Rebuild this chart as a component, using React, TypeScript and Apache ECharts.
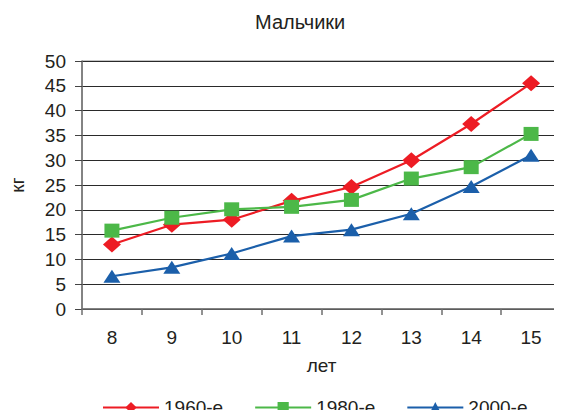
import React, { useEffect, useRef } from "react";
import * as echarts from "echarts";

const categories = ["8", "9", "10", "11", "12", "13", "14", "15"];
const s1960 = [13, 17, 18, 21.8, 24.6, 30, 37.3, 45.5];
const s1980 = [15.8, 18.4, 20.1, 20.6, 22, 26.3, 28.6, 35.3];
const s2000 = [6.6, 8.4, 11.2, 14.7, 16, 19.2, 24.7, 31];
const seriesNames = ["1960-е", "1980-е", "2000-е"];
const titleText = "Мальчики";
const xName = "лет";
const yName = "кг";

const FONT = "Liberation Sans, Arial, sans-serif";
const TXT = "#231f20";

export default function App() {
  const ref = useRef<HTMLDivElement>(null);
  useEffect(() => {
    if (!ref.current) return;
    const chart = echarts.init(ref.current, null, { renderer: "svg" });
    chart.setOption({
      animation: false,
      backgroundColor: "#fff",
      textStyle: { fontFamily: FONT },
      title: {
        text: titleText,
        left: 255,
        top: 12,
        padding: 0,
        textStyle: { fontFamily: FONT, fontSize: 20, fontWeight: "normal", color: TXT },
      },
      grid: {
        left: 80,
        right: 1,
        top: 61,
        bottom: 109,
        show: true,
        borderColor: "#8a8a8a",
        borderWidth: 1,
      },
      legend: {
        left: 102,
        top: 398,
        padding: 0,
        itemWidth: 56,
        itemHeight: 14,
        itemGap: 31,
        textStyle: { fontFamily: FONT, fontSize: 19, color: TXT, lineHeight: 19 },
        data: seriesNames,
      },
      xAxis: {
        type: "category",
        data: categories,
        boundaryGap: true,
        name: xName,
        nameLocation: "middle",
        nameGap: 47,
        nameTextStyle: { fontFamily: FONT, fontSize: 19, color: TXT },
        axisLine: { lineStyle: { color: "#6e6e6e", width: 1.5 } },
        axisTick: { show: true, length: 6, alignWithLabel: false, lineStyle: { color: "#6e6e6e", width: 1.5 } },
        axisLabel: { fontFamily: FONT, fontSize: 19, color: TXT, margin: 19 },
        splitLine: { show: false },
      },
      yAxis: {
        type: "value",
        min: 0,
        max: 50,
        interval: 5,
        name: yName,
        nameLocation: "middle",
        nameRotate: 90,
        nameGap: 55,
        nameTextStyle: { fontFamily: FONT, fontSize: 19, color: TXT },
        axisLine: { show: true, lineStyle: { color: "#6e6e6e", width: 1.5 } },
        axisTick: { show: true, length: 7, lineStyle: { color: "#444", width: 1 } },
        axisLabel: { fontFamily: FONT, fontSize: 19, color: TXT, margin: 16 },
        splitLine: { show: true, lineStyle: { color: "#2a2a2a", width: 1 } },
      },
      series: [
        {
          name: seriesNames[0],
          type: "line",
          data: s1960,
          symbol: "diamond",
          symbolSize: [18, 16],
          itemStyle: { color: "#ed1c24" },
          lineStyle: { color: "#ed1c24", width: 2.2 },
        },
        {
          name: seriesNames[1],
          type: "line",
          data: s1980,
          symbol: "rect",
          symbolSize: [15, 14],
          itemStyle: { color: "#4cb848" },
          lineStyle: { color: "#4cb848", width: 2.2 },
        },
        {
          name: seriesNames[2],
          type: "line",
          data: s2000,
          symbol: "triangle",
          symbolSize: [17, 13],
          itemStyle: { color: "#1b5faa" },
          lineStyle: { color: "#1b5faa", width: 2.2 },
        },
      ],
    });
    return () => chart.dispose();
  }, []);
  return <div ref={ref} style={{ width: 562, height: 418, margin: -8 }} />;
}
